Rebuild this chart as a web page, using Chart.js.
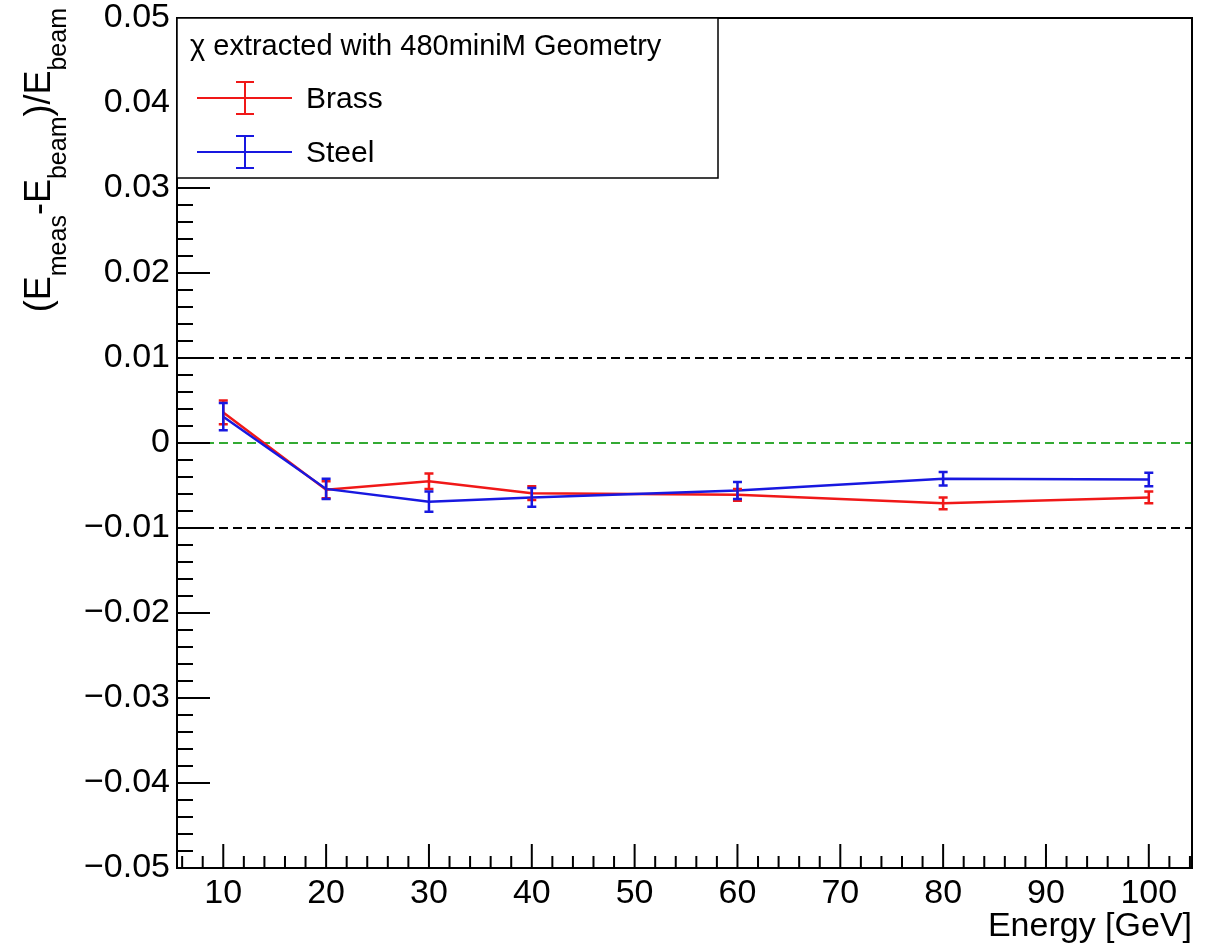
<!DOCTYPE html>
<html>
<head>
<meta charset="utf-8">
<title>Energy linearity</title>
<script src="https://cdn.jsdelivr.net/npm/chart.js@4.4.1/dist/chart.umd.min.js"></script>
<style>
  body { margin: 0; background: #fff; }
  canvas { display: block; }
</style>
</head>
<body>
<canvas id="chart" width="1217" height="944"></canvas>
<script>
// beam energies (GeV)
const energies = [10, 20, 30, 40, 60, 80, 100];

// (Emeas - Ebeam)/Ebeam
const brassVals = [0.0036, -0.0055, -0.0045, -0.0059, -0.0061, -0.0071, -0.0064];
const brassErr  = [0.0014, 0.0010, 0.0009, 0.0008, 0.0007, 0.0007, 0.0007];
const steelVals = [0.0031, -0.0054, -0.0069, -0.0064, -0.0056, -0.0042, -0.0043];
const steelErr  = [0.0016, 0.0012, 0.0012, 0.0011, 0.0010, 0.0008, 0.0008];

const xTickVals = [10, 20, 30, 40, 50, 60, 70, 80, 90, 100];
const yTickVals = [-0.05, -0.04, -0.03, -0.02, -0.01, 0, 0.01, 0.02, 0.03, 0.04, 0.05];
const bandLevels = [-0.01, 0.01];

const xMin = 5.5, xMax = 104.2;
const FONT = '"Liberation Sans", Arial, sans-serif';
const brassColor = '#f01818';
const steelColor = '#1818e0';

function pts(vals) {
  return energies.map((e, i) => ({ x: e, y: vals[i] }));
}
function hline(y) {
  return [{ x: xMin, y: y }, { x: xMax, y: y }];
}

// vertical error bars with small caps
const errorBars = {
  id: 'errorBars',
  afterDatasetsDraw(chart) {
    const ctx = chart.ctx;
    const xs = chart.scales.x, ys = chart.scales.y;
    chart.data.datasets.slice().reverse().forEach(ds => {
      if (!ds.errors) return;
      ctx.save();
      ctx.strokeStyle = ds.borderColor;
      ctx.lineWidth = 2.5;
      ds.data.forEach((p, i) => {
        const px = xs.getPixelForValue(p.x);
        const top = ys.getPixelForValue(p.y + ds.errors[i]);
        const bot = ys.getPixelForValue(p.y - ds.errors[i]);
        ctx.beginPath();
        ctx.moveTo(px, top); ctx.lineTo(px, bot);
        ctx.moveTo(px - 4.5, top); ctx.lineTo(px + 4.5, top);
        ctx.moveTo(px - 4.5, bot); ctx.lineTo(px + 4.5, bot);
        ctx.stroke();
      });
      ctx.restore();
    });
  }
};

// ROOT style frame: inside ticks, box legend, axis titles
const frame = {
  id: 'frame',
  afterDraw(chart) {
    const ctx = chart.ctx;
    const a = chart.chartArea;
    const xs = chart.scales.x, ys = chart.scales.y;
    ctx.save();
    ctx.strokeStyle = '#000';
    ctx.lineWidth = 2;
    ctx.beginPath();
    for (let k = 0; k <= 50; k++) {
      const py = ys.getPixelForValue(-0.05 + k * 0.002);
      const len = k % 5 === 0 ? 33 : 16;
      ctx.moveTo(a.left, py); ctx.lineTo(a.left + len, py);
    }
    for (let v = 6; v <= 104; v += 2) {
      const px = xs.getPixelForValue(v);
      const len = v % 10 === 0 ? 24 : 12;
      ctx.moveTo(px, a.bottom); ctx.lineTo(px, a.bottom - len);
    }
    ctx.stroke();
    ctx.strokeRect(a.left, a.top, a.right - a.left, a.bottom - a.top);

    // legend box
    const lx = a.left, ly = a.top, lw = 541, lh = 160;
    ctx.fillStyle = '#fff';
    ctx.fillRect(lx, ly, lw, lh);
    ctx.lineWidth = 1.5;
    ctx.strokeRect(lx, ly, lw, lh);
    ctx.fillStyle = '#000';
    ctx.textBaseline = 'middle';
    ctx.textAlign = 'left';
    ctx.font = '29px ' + FONT;
    ctx.fillText('\u03C7 extracted with 480miniM Geometry', 190, 47);
    const entries = [
      { label: 'Brass', color: brassColor, y: 98 },
      { label: 'Steel', color: steelColor, y: 152 }
    ];
    ctx.font = '30px ' + FONT;
    entries.forEach(en => {
      ctx.strokeStyle = en.color;
      ctx.lineWidth = 2;
      ctx.beginPath();
      ctx.moveTo(197, en.y); ctx.lineTo(292, en.y);
      ctx.moveTo(245, en.y - 16); ctx.lineTo(245, en.y + 16);
      ctx.moveTo(236, en.y - 16); ctx.lineTo(254, en.y - 16);
      ctx.moveTo(236, en.y + 16); ctx.lineTo(254, en.y + 16);
      ctx.stroke();
      ctx.fillStyle = '#000';
      ctx.fillText(en.label, 306, en.y + 2);
    });

    // x title
    ctx.font = '34px ' + FONT;
    ctx.textAlign = 'right';
    ctx.textBaseline = 'alphabetic';
    ctx.fillText('Energy [GeV]', a.right, 936);

    // y title with subscripts, rotated
    const parts = [
      ['(E', 0], ['meas', 1], ['-E', 0], ['beam', 1], [')/E', 0], ['beam', 1]
    ];
    const mainF = '36px ' + FONT, subF = '25px ' + FONT;
    let total = 0;
    parts.forEach(p => { ctx.font = p[1] ? subF : mainF; total += ctx.measureText(p[0]).width; });
    ctx.translate(50, 8 + total);
    ctx.rotate(-Math.PI / 2);
    ctx.textAlign = 'left';
    let cx = 0;
    parts.forEach(p => {
      ctx.font = p[1] ? subF : mainF;
      ctx.fillText(p[0], cx, p[1] ? 16 : 0);
      cx += ctx.measureText(p[0]).width;
    });
    ctx.restore();
  }
};

new Chart(document.getElementById('chart'), {
  type: 'line',
  data: {
    datasets: [
      { label: 'Steel', data: pts(steelVals), errors: steelErr, borderColor: steelColor, borderWidth: 2.5, pointRadius: 0, fill: false },
      { label: 'Brass', data: pts(brassVals), errors: brassErr, borderColor: brassColor, borderWidth: 2.5, pointRadius: 0, fill: false },
      { label: 'zero', data: hline(0), borderColor: '#33aa33', borderWidth: 2, borderDash: [9, 5], pointRadius: 0 },
      { label: 'upper', data: hline(bandLevels[1]), borderColor: '#000', borderWidth: 2, borderDash: [9, 5], pointRadius: 0 },
      { label: 'lower', data: hline(bandLevels[0]), borderColor: '#000', borderWidth: 2, borderDash: [9, 5], pointRadius: 0 }
    ]
  },
  options: {
    responsive: false,
    animation: false,
    devicePixelRatio: 1,
    layout: { padding: { top: 18, right: 25, left: 0, bottom: 0 } },
    plugins: { legend: { display: false }, tooltip: { enabled: false } },
    scales: {
      x: {
        type: 'linear',
        min: xMin,
        max: xMax,
        grid: { display: false, drawTicks: false },
        border: { display: false },
        afterBuildTicks: s => { s.ticks = xTickVals.map(v => ({ value: v })); },
        afterFit: s => { s.height = 76; s.paddingLeft = 0; s.paddingRight = 0; },
        ticks: { color: '#000', padding: 5, maxRotation: 0, font: { family: FONT, size: 34 } }
      },
      y: {
        type: 'linear',
        min: -0.05,
        max: 0.05,
        grid: { display: false, drawTicks: false },
        border: { display: false },
        afterBuildTicks: s => { s.ticks = yTickVals.map(v => ({ value: v })); },
        afterFit: s => { s.width = 177; s.paddingTop = 0; s.paddingBottom = 0; },
        ticks: {
          color: '#000',
          padding: 7,
          font: { family: FONT, size: 34 },
          callback: v => Math.abs(v) < 1e-9 ? '0' : (v < 0 ? '\u2212' : '') + Math.abs(v).toFixed(2)
        }
      }
    }
  },
  plugins: [errorBars, frame]
});
</script>
</body>
</html>
